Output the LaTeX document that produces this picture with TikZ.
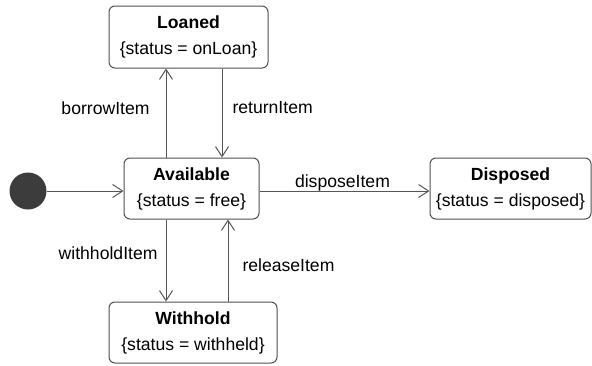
\documentclass[tikz,border=0pt]{standalone}
\usepackage{fontspec}
\setmainfont{Liberation Sans}
\usetikzlibrary{arrows.meta}
\definecolor{edgegray}{HTML}{555555}
\definecolor{boxgray}{HTML}{505050}
\definecolor{dotgray}{HTML}{3C3C3C}
\tikzset{
  statebox/.style={draw=boxgray, line width=1pt, rounded corners=6pt, fill=white,
    align=center, inner sep=0pt, font=\fontsize{17.6}{26}\selectfont},
  trans/.style={draw=edgegray, line width=1pt, -{Straight Barb[length=10pt,width=13pt,line width=1pt]}},
  lbl/.style={font=\fontsize{17.6}{20}\selectfont, inner sep=0pt},
  initdot/.style={circle, fill=dotgray, minimum size=37pt, inner sep=0pt}
}
\begin{document}
\begin{tikzpicture}[x=1pt, y=-1pt]
\useasboundingbox (0,0) rectangle (592,365);
\node[statebox, minimum width=159pt, minimum height=62pt] (loaned) at (188.5,37) {\textbf{Loaned}\\\{status = onLoan\}};
\node[statebox, minimum width=135pt, minimum height=61pt] (avail) at (191.5,188.5) {\textbf{Available}\\\{status = free\}};
\node[statebox, minimum width=168pt, minimum height=61pt] (withhold) at (193,332.5) {\textbf{Withhold}\\\{status = withheld\}};
\node[statebox, minimum width=161pt, minimum height=61pt] (disposed) at (510.5,188.5) {\textbf{Disposed}\\\{status = disposed\}};
\node[initdot] (init) at (28,191) {};
\coordinate (xa) at (166,0);
\coordinate (xb) at (222,0);
\coordinate (xc) at (228,0);
\coordinate (ya) at (0,191);
\draw[trans] (init.east |- ya) -- (avail.west |- ya);
\draw[trans] (avail.north -| xa) -- node[lbl, anchor=east, xshift=-16pt, yshift=5pt] (l1) {borrowItem} (loaned.south -| xa);
\draw[trans] (loaned.south -| xb) -- node[lbl, anchor=west, xshift=10pt, yshift=5pt] (l2) {returnItem} (avail.north -| xb);
\draw[trans] (avail.east |- ya) -- node[lbl, xshift=-2pt, yshift=8pt] (l3) {disposeItem} (disposed.west |- ya);
\draw[trans] (avail.south -| xa) -- node[lbl, anchor=east, xshift=-8pt, yshift=7.5pt] (l4) {withholdItem} (withhold.north -| xa);
\draw[trans] (withhold.north -| xc) -- node[lbl, anchor=west, xshift=14pt, yshift=-4.5pt] (l5) {releaseItem} (avail.south -| xc);
\end{tikzpicture}
\end{document}
